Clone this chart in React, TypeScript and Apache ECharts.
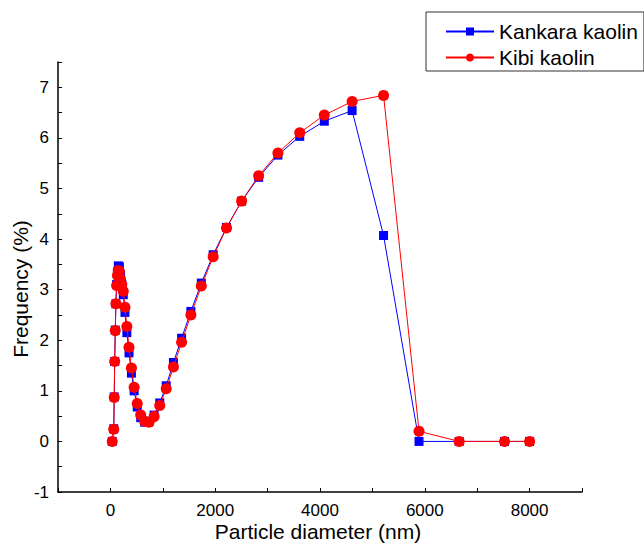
import React, { useEffect, useRef } from "react";
import * as echarts from "echarts";

// Particle diameter (nm) bins shared by both samples
const diameters = [
  35, 64, 73, 82, 93, 105, 118, 134, 151, 171, 193, 218, 246, 278, 314, 355,
  401, 453, 512, 578, 653, 738, 834, 942, 1065, 1203, 1359, 1536, 1735, 1961,
  2216, 2504, 2829, 3197, 3613, 4082, 4613, 5213, 5890, 6656, 7521, 8000,
];

// Frequency (%) – Kankara kaolin
const kankara = [
  0, 0.25, 0.88, 1.58, 2.2, 2.72, 3.1, 3.35, 3.47, 3.45, 3.3, 3.1, 2.9, 2.55,
  2.15, 1.75, 1.35, 1.0, 0.68, 0.47, 0.38, 0.4, 0.52, 0.76, 1.1, 1.56, 2.04,
  2.57, 3.13, 3.69, 4.23, 4.75, 5.22, 5.66, 6.03, 6.33, 6.54, 4.07, 0, 0, 0, 0,
];

// Frequency (%) – Kibi kaolin
const kibi = [
  0, 0.24, 0.87, 1.58, 2.19, 2.72, 3.08, 3.28, 3.38, 3.36, 3.21, 3.1, 2.97,
  2.65, 2.27, 1.86, 1.45, 1.07, 0.75, 0.52, 0.4, 0.38, 0.49, 0.71, 1.04, 1.47,
  1.96, 2.5, 3.07, 3.65, 4.22, 4.75, 5.25, 5.7, 6.1, 6.45, 6.72, 6.84, 0.2, 0,
  0, 0,
];

const xTicks = [0, 2000, 4000, 6000, 8000];

const FONT = "'Liberation Sans', Arial, sans-serif";

export default function App() {
  const ref = useRef<HTMLDivElement>(null);

  useEffect(() => {
    if (!ref.current) return;
    const chart = echarts.init(ref.current, null, { renderer: "svg" });
    const pair = (ys: number[]) => diameters.map((d, i) => [d, ys[i]]);
    chart.setOption({
      animation: false,
      backgroundColor: "#ffffff",
      textStyle: { fontFamily: FONT },
      grid: { left: 58, top: 62, right: 62, bottom: 52, containLabel: false },
      legend: {
        orient: "vertical",
        left: 426,
        top: 12,
        padding: [9, 6, 3, 19],
        itemWidth: 48,
        itemHeight: 10,
        itemGap: 5,
        borderColor: "#333",
        borderWidth: 1,
        textStyle: { fontSize: 21, color: "#000", fontFamily: FONT },
        data: ["Kankara kaolin", "Kibi kaolin"],
      },
      xAxis: {
        type: "value",
        min: -1000,
        max: 9000,
        interval: 1000,
        splitLine: { show: false },
        axisLine: { onZero: false, lineStyle: { color: "#000", width: 1.5 } },
        axisTick: { inside: true, length: 4, lineStyle: { color: "#000" } },
        axisLabel: {
          fontSize: 17,
          color: "#000",
          margin: 10,
          fontFamily: FONT,
          formatter: (v: number) => (xTicks.includes(v) ? String(v) : ""),
        },
      },
      yAxis: {
        type: "value",
        min: -1,
        max: 7.5,
        interval: 0.5,
        splitLine: { show: false },
        axisLine: { onZero: false, lineStyle: { color: "#000", width: 1.5 } },
        axisTick: { inside: true, length: 4, lineStyle: { color: "#000" } },
        axisLabel: {
          fontSize: 17,
          color: "#000",
          margin: 9,
          fontFamily: FONT,
          formatter: (v: number) => (Number.isInteger(v) ? String(v) : ""),
        },
      },
      graphic: [
        {
          type: "text",
          x: 318,
          y: 531,
          style: {
            text: "Particle diameter (nm)",
            fontSize: 21,
            fontFamily: FONT,
            fill: "#000",
            align: "center",
            verticalAlign: "middle",
          },
        },
        {
          type: "text",
          x: 20,
          y: 289,
          rotation: Math.PI / 2,
          style: {
            text: "Frequency (%)",
            fontSize: 21,
            fontFamily: FONT,
            fill: "#000",
            align: "center",
            verticalAlign: "middle",
          },
        },
      ],
      series: [
        {
          name: "Kankara kaolin",
          type: "line",
          data: pair(kankara),
          symbol: "rect",
          symbolSize: 9,
          color: "#0000ff",
          lineStyle: { width: 1, color: "#0000ff" },
          itemStyle: { color: "#0000ff" },
          z: 2,
        },
        {
          name: "Kibi kaolin",
          type: "line",
          data: pair(kibi),
          symbol: "circle",
          symbolSize: 11,
          color: "#ff0000",
          lineStyle: { width: 1, color: "#ff0000" },
          itemStyle: { color: "#ff0000" },
          z: 3,
        },
      ],
    });
    return () => chart.dispose();
  }, []);

  return <div ref={ref} style={{ width: 644, height: 544, position: "absolute", left: 0, top: 0 }} />;
}
